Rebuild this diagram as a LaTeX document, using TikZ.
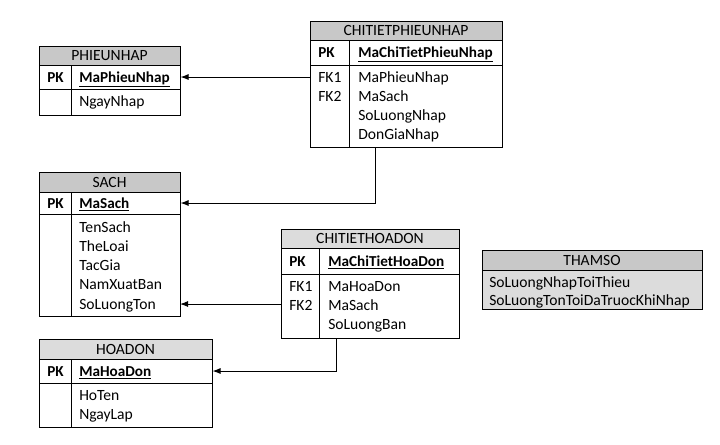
\documentclass[tikz,border=0pt]{standalone}
\usepackage{fontspec}
\setmainfont{Carlito}
\usetikzlibrary{positioning,fit,arrows.meta}
\definecolor{HeadDark}{HTML}{C8C8C8}
\definecolor{HeadLight}{HTML}{DCDCDC}
\definecolor{EdgeColor}{HTML}{000000}

\begin{document}
\begin{tikzpicture}[
    x=0.75pt, y=-0.75pt,
    every node/.style={font=\fontsize{11.7pt}{13pt}\selectfont, text=black},
    cell/.style={draw=EdgeColor, line width=0.75pt, inner sep=0pt},
    headcell/.style={cell, fill=HeadDark},
    lightcell/.style={cell, fill=HeadLight},
    titletext/.style={inner sep=0pt},
    keytext/.style={anchor=base west, inner sep=0pt, font=\fontsize{11.4pt}{13pt}\selectfont\bfseries},
    fieldtext/.style={anchor=base west, inner sep=0pt},
    divider/.style={draw=EdgeColor, line width=0.75pt},
    fklink/.style={draw=EdgeColor, line width=0.75pt, -{Latex[length=6pt,width=4.5pt]}}
]

\useasboundingbox[fill=white] (0,0) rectangle (720,444);

% PHIEUNHAP
\node[headcell, fit={(39,46)(180,65)}] (pnHead) {};
\node[cell, fit={(39,65)(180,89)}] (pnKey) {};
\node[cell, fit={(39,89)(180,115)}] (pnBody) {};
\draw[divider] (71,65) -- (71,115);
\node[titletext] (pnTitle) at (pnHead.center) {PHIEUNHAP};
\node[keytext] (pnPK) at (47,82) {PK};
\node[keytext] (pnMa) at (79,82) {\underline{MaPhieuNhap}};
\node[fieldtext] (pnNgay) at (79,106) {NgayNhap};

% CHITIETPHIEUNHAP
\node[headcell, fit={(310,21)(502,40)}] (cpnHead) {};
\node[cell, fit={(310,40)(502,65)}] (cpnKey) {};
\node[cell, fit={(310,65)(502,147)}] (cpnBody) {};
\draw[divider] (349,40) -- (349,147);
\node[titletext] (cpnTitle) at (cpnHead.center) {CHITIETPHIEUNHAP};
\node[keytext] (cpnPK) at (318,57) {PK};
\node[keytext] (cpnMa) at (358,57) {\underline{MaChiTietPhieuNhap}};
\node[fieldtext] (cpnFKa) at (318,82) {FK1};
\node[fieldtext] (cpnFKb) at (318,101) {FK2};
\node[fieldtext] (cpnMaPN) at (358,82) {MaPhieuNhap};
\node[fieldtext] (cpnMaS) at (358,101) {MaSach};
\node[fieldtext] (cpnSL) at (358,120) {SoLuongNhap};
\node[fieldtext] (cpnGia) at (358,139) {DonGiaNhap};

% SACH
\node[headcell, fit={(39,172)(180,192)}] (sHead) {};
\node[cell, fit={(39,192)(180,214)}] (sKey) {};
\node[cell, fit={(39,214)(180,316)}] (sBody) {};
\draw[divider] (71,192) -- (71,316);
\node[titletext] (sTitle) at (sHead.center) {SACH};
\node[keytext] (sPK) at (47,208) {PK};
\node[keytext] (sMa) at (79,208) {\underline{MaSach}};
\node[fieldtext] (sTen) at (79,232) {TenSach};
\node[fieldtext] (sLoai) at (79,251) {TheLoai};
\node[fieldtext] (sTacGia) at (79,270) {TacGia};
\node[fieldtext] (sNam) at (79,289) {NamXuatBan};
\node[fieldtext] (sTon) at (79,309) {SoLuongTon};

% CHITIETHOADON
\node[lightcell, fit={(281,229)(459,248)}] (ctHead) {};
\node[cell, fit={(281,248)(459,274)}] (ctKey) {};
\node[cell, fit={(281,274)(459,338)}] (ctBody) {};
\draw[divider] (319,248) -- (319,338);
\node[titletext] (ctTitle) at (ctHead.center) {CHITIETHOADON};
\node[keytext] (ctPK) at (289,266) {PK};
\node[keytext] (ctMa) at (328,266) {\underline{MaChiTietHoaDon}};
\node[fieldtext] (ctFKa) at (289,291) {FK1};
\node[fieldtext] (ctFKb) at (289,310) {FK2};
\node[fieldtext] (ctMaHD) at (328,291) {MaHoaDon};
\node[fieldtext] (ctMaS) at (328,310) {MaSach};
\node[fieldtext] (ctSL) at (328,329) {SoLuongBan};

% HOADON
\node[lightcell, fit={(39,339)(212,359)}] (hdHead) {};
\node[cell, fit={(39,359)(212,383)}] (hdKey) {};
\node[cell, fit={(39,383)(212,427)}] (hdBody) {};
\draw[divider] (71,359) -- (71,427);
\node[titletext] (hdTitle) at (hdHead.center) {HOADON};
\node[keytext] (hdPK) at (47,376) {PK};
\node[keytext] (hdMa) at (79,376) {\underline{MaHoaDon}};
\node[fieldtext] (hdTen) at (79,400) {HoTen};
\node[fieldtext] (hdNgay) at (79,419) {NgayLap};

% THAMSO
\node[headcell, fit={(482,250)(702,270)}] (tsHead) {};
\node[lightcell, fit={(482,270)(702,309)}] (tsBody) {};
\node[titletext] (tsTitle) at (tsHead.center) {THAMSO};
\node[fieldtext] (tsMin) at (489,287) {SoLuongNhapToiThieu};
\node[fieldtext] (tsMax) at (489,305) {SoLuongTonToiDaTruocKhiNhap};

% connectors
\coordinate (cpnOut) at (375,147);
\coordinate (sTonIn) at (180,304);
\coordinate (ctOut) at (336,338);

\draw[fklink] (pnKey.east -| cpnBody.west) -- (pnKey.east);
\draw[fklink] (cpnOut) |- (sKey.east);
\draw[fklink] (ctBody.west |- sTonIn) -- (sTonIn);
\draw[fklink] (ctOut) |- (hdKey.east);

\end{tikzpicture}
\end{document}
